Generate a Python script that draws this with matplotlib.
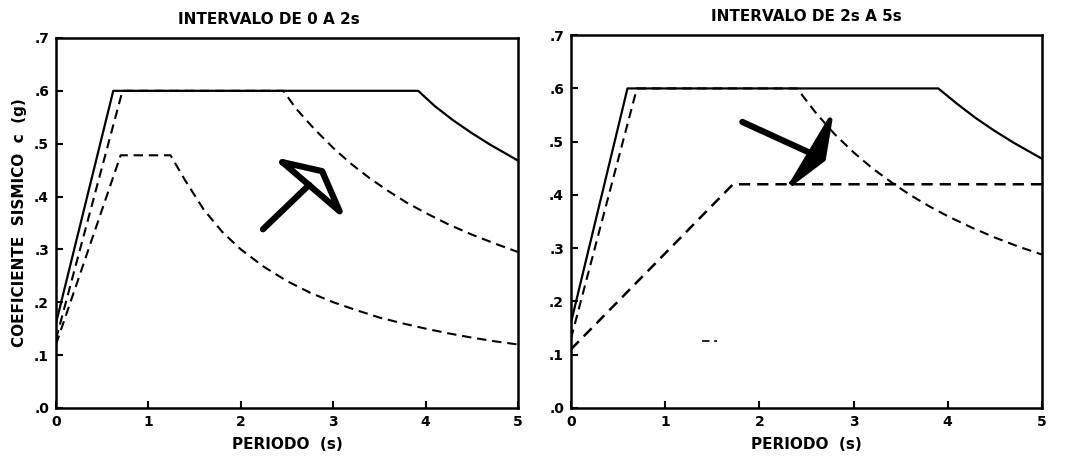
#!/usr/bin/env python3
import matplotlib
matplotlib.use("Agg")
import matplotlib.pyplot as plt

# periods (s) and seismic coefficient (g)
# left panel: "INTERVALO DE 0 A 2s"
left_solid_t = [0.0, 0.62, 3.92, 4.1, 4.3, 4.5, 4.7, 4.9, 5.0]
left_solid_c = [0.16, 0.60, 0.60, 0.571, 0.544, 0.52, 0.498, 0.478, 0.468]
left_mid_t = [0.0, 0.72, 2.46, 2.6, 2.8, 3.0, 3.2, 3.4, 3.6, 3.8, 4.0, 4.25, 4.5, 4.75, 5.0]
left_mid_c = [0.13, 0.60, 0.60, 0.566, 0.527, 0.492, 0.461, 0.434, 0.41, 0.388, 0.369,
              0.347, 0.328, 0.311, 0.295]
left_low_t = [0.0, 0.70, 1.24, 1.4, 1.6, 1.8, 2.0, 2.25, 2.5, 2.75, 3.0, 3.25, 3.5, 3.75,
              4.0, 4.25, 4.5, 4.75, 5.0]
left_low_c = [0.12, 0.478, 0.478, 0.43, 0.375, 0.333, 0.30, 0.267, 0.24, 0.218, 0.20, 0.185,
              0.171, 0.16, 0.15, 0.141, 0.133, 0.126, 0.12]

# right panel: "INTERVALO DE 2s A 5s"
right_solid_t = [0.0, 0.60, 3.90, 4.1, 4.3, 4.5, 4.7, 4.9, 5.0]
right_solid_c = [0.16, 0.60, 0.60, 0.571, 0.544, 0.52, 0.498, 0.478, 0.468]
right_mid_t = [0.0, 0.70, 2.40, 2.6, 2.8, 3.0, 3.2, 3.4, 3.6, 3.8, 4.0, 4.25, 4.5, 4.75, 5.0]
right_mid_c = [0.13, 0.60, 0.60, 0.554, 0.514, 0.48, 0.45, 0.424, 0.40, 0.379, 0.36,
               0.339, 0.32, 0.303, 0.288]
right_low_t = [0.0, 1.72, 5.0]
right_low_c = [0.11, 0.42, 0.42]
right_stray_t = [1.39, 1.55]
right_stray_c = [0.125, 0.125]

# hand-drawn arrows (period, coefficient)
left_arrow_shaft_t = [2.24, 2.74]
left_arrow_shaft_c = [0.338, 0.422]
left_arrow_head_t = [2.45, 2.88, 3.07, 2.45]
left_arrow_head_c = [0.465, 0.448, 0.372, 0.465]
right_arrow_shaft_t = [1.82, 2.55]
right_arrow_shaft_c = [0.537, 0.478]
right_arrow_head_t = [2.35, 2.75, 2.68, 2.35]
right_arrow_head_c = [0.423, 0.541, 0.467, 0.423]

x_ticks = [0, 1, 2, 3, 4, 5]
y_ticks = [0.0, 0.1, 0.2, 0.3, 0.4, 0.5, 0.6, 0.7]
y_tick_labels = [".0", ".1", ".2", ".3", ".4", ".5", ".6", ".7"]

DASH = (0, (4.5, 2.8))


def style_axes(ax, title, title_x):
    ax.set_xlim(0, 5)
    ax.set_ylim(0, 0.7)
    ax.set_xticks(x_ticks)
    ax.set_xticklabels([str(t) for t in x_ticks], fontweight="bold", fontsize=10)
    ax.set_yticks(y_ticks)
    ax.set_yticklabels(y_tick_labels, fontweight="bold", fontsize=10)
    ax.tick_params(direction="in", length=5, width=1.5, pad=5)
    for spine in ax.spines.values():
        spine.set_linewidth(1.8)
    ax.set_title(title, fontweight="bold", fontsize=11, pad=10, x=title_x)
    ax.set_xlabel("PERIODO  (s)", fontweight="bold", fontsize=11, labelpad=6)


fig = plt.figure(figsize=(10.68, 4.63), dpi=100)
ax1 = fig.add_axes([0.0524, 0.119, 0.4326, 0.799])
ax2 = fig.add_axes([0.5346, 0.119, 0.4410, 0.805])

ax1.plot(left_solid_t, left_solid_c, color="black", lw=1.6)
ax1.plot(left_mid_t, left_mid_c, color="black", lw=1.5, linestyle=DASH)
ax1.plot(left_low_t, left_low_c, color="black", lw=1.5, linestyle=DASH)
ax1.plot(left_arrow_shaft_t, left_arrow_shaft_c, color="black", lw=4.5, solid_capstyle="round")
ax1.plot(left_arrow_head_t, left_arrow_head_c, color="black", lw=4.5,
         solid_joinstyle="round", solid_capstyle="round")
style_axes(ax1, "INTERVALO DE 0 A 2s", 0.46)
ax1.set_ylabel("COEFICIENTE  SISMICO  c  (g)", fontweight="bold", fontsize=11, labelpad=5)

ax2.plot(right_solid_t, right_solid_c, color="black", lw=1.6)
ax2.plot(right_mid_t, right_mid_c, color="black", lw=1.5, linestyle=DASH)
ax2.plot(right_low_t, right_low_c, color="black", lw=1.8, linestyle=DASH)
ax2.plot(right_stray_t, right_stray_c, color="black", lw=1.2, linestyle=DASH)
ax2.plot(right_arrow_shaft_t, right_arrow_shaft_c, color="black", lw=4.5, solid_capstyle="round")
ax2.fill(right_arrow_head_t, right_arrow_head_c, color="black")
ax2.plot(right_arrow_head_t, right_arrow_head_c, color="black", lw=3.5, solid_joinstyle="round")
style_axes(ax2, "INTERVALO DE 2s A 5s", 0.5)

fig.savefig("out.png", dpi=100)
